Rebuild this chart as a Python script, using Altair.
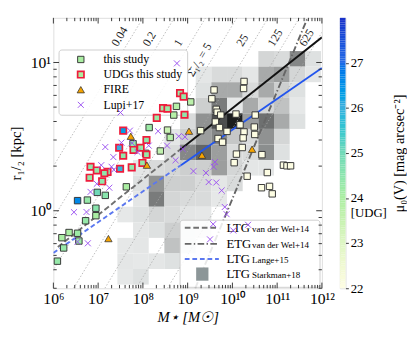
import altair as alt
import numpy as np
import pandas as pd

# ---------------- data ----------------
# "this study" (non-UDG) : log10 M*, r_1/2 [kpc], mu0(V)
study_logm = [8.14, 8.55, 8.61, 7.78, 8.39, 8.06, 7.63, 7.16, 6.98, 6.76, 6.54, 6.95, 6.95,
              6.72, 6.35, 6.19, 6.54, 6.57, 6.23, 6.09, 9.07, 8.75, 8.69, 9.29,
              9.59, 10.26, 10.25, 9.54, 9.64, 9.66, 9.62, 9.74, 10.08, 10.51, 9.71, 10.17,
              9.88, 10.26, 10.49, 10.50, 9.68, 10.24, 9.78, 10.22, 10.09, 10.66, 10.04,
              10.78, 11.14, 11.22, 11.30, 10.33, 10.65, 10.83, 10.89]
study_r = [3.64, 3.50, 3.12, 2.83, 2.53, 2.44, 1.45, 1.27, 1.33, 1.18, 1.17, 1.04, 0.926,
           0.856, 0.713, 0.658, 0.705, 0.625, 0.561, 0.457, 5.42, 5.06, 4.42, 3.47,
           6.53, 7.45, 6.68, 5.69, 4.83, 4.62, 3.97, 4.42, 4.49, 4.42, 3.64, 3.80,
           3.43, 3.40, 3.67, 3.27, 3.07, 3.10, 2.90, 2.67, 2.41, 2.39, 2.11,
           1.81, 2.03, 2.01, 2.01, 1.71, 1.43, 1.46, 1.30]
study_mu = [24.2, 23.4, 23.8, 24.3, 23.6, 24.1, 24.0, 24.5, 25.0, 24.3, 26.6, 24.5, 24.0,
            24.3, 24.0, 24.0, 24.2, 24.2, 24.3, 24.3, 23.7, 23.8, 23.8, 22.3,
            22, 22, 22, 22, 22, 22, 22, 22, 22, 22, 22, 22,
            22, 22, 22, 22, 22, 22, 22, 22, 22, 22, 22,
            22, 22, 22, 22, 22, 22, 22, 22]

# UDGs of this study
udg_logm = [8.83, 8.91, 8.45, 8.55, 8.93, 8.31, 7.56, 8.08, 7.47, 7.79, 7.95, 8.08,
            7.56, 7.99, 7.75, 7.49, 7.21, 6.83, 6.97, 7.14, 6.81, 7.09]
udg_r = [6.21, 5.89, 4.92, 4.88, 4.44, 4.23, 3.47, 3.00, 2.66, 2.57, 2.66, 2.39,
         2.35, 2.10, 1.96, 1.92, 1.83, 1.98, 1.87, 1.79, 1.67, 1.58]
udg_mu = [24.3, 24.3, 24.2, 24.2, 24.4, 24.2, 26.3, 24.4, 26.0, 24.3, 24.3, 24.3,
          24.4, 24.3, 24.4, 25.8, 24.3, 24.4, 24.3, 24.4, 24.3, 24.4]

# FIRE
fire_logm = [7.73, 8.09, 9.03, 9.32, 7.23, 10.44]
fire_r = [3.18, 2.03, 3.44, 2.37, 0.649, 2.60]

# Lupi+17
lupi_logm = [8.76, 7.50, 7.71, 8.34, 8.80, 8.94, 8.13, 8.54, 8.89, 7.52, 7.16, 7.34,
             7.76, 7.88, 8.73, 7.07, 7.30, 7.35, 6.97, 7.25, 6.83, 6.46, 6.74, 6.54,
             6.77, 9.13, 9.41, 9.58, 9.47, 9.64, 9.76, 9.83, 9.87, 9.57, 10.35, 10.02,
             9.50, 9.61]
lupi_r = [9.86, 4.60, 3.47, 3.44, 3.18, 3.15, 2.75, 2.75, 2.61, 2.88, 2.69, 2.30,
          2.86, 2.49, 2.19, 2.03, 1.98, 1.89, 1.52, 1.43, 1.34, 0.978, 0.981, 0.618,
          0.603, 1.85, 1.80, 1.98, 1.56, 1.55, 1.37, 1.06, 0.948, 0.812, 0.804, 0.736,
          0.641, 2.13]

# Starkman+18 LTG 2D histogram (relative density), rows from top to bottom
heat_logm_edges = [7.43, 7.78, 8.13, 8.48, 8.83, 9.18, 9.53, 9.88, 10.23, 10.58,
                   10.93, 11.28, 11.63, 11.98]
heat_logr_edges = [1.077, 0.972, 0.867, 0.762, 0.657, 0.552, 0.447, 0.342, 0.237,
                   0.132, 0.027, -0.078, -0.183, -0.288, -0.393, -0.498]
heat_grid = [
    [0, 0, 0, 0, 0, 0, 0, 0, 0, .12, .10, .45, .08],
    [0, 0, 0, 0, 0, .06, .10, .10, .06, .30, .35, .12, .06],
    [0, 0, 0, 0, 0, .08, .30, .30, .10, .30, .15, .08, 0],
    [0, 0, 0, 0, 0, .15, .50, .05, .30, .12, .20, .05, 0],
    [0, 0, 0, 0, .10, .40, .70, .95, .35, .55, .30, .08, 0],
    [0, 0, 0, .06, .15, .35, .45, .18, .10, .40, .12, 0, 0],
    [0, 0, 0, .10, .45, .60, .35, .10, .10, .42, .08, 0, 0],
    [0, .06, .10, .12, .15, .15, .35, .12, .06, .06, 0, 0, 0],
    [0, .08, .40, .15, .15, .10, .06, .10, 0, 0, 0, 0, 0],
    [0, .06, .50, .12, .10, .10, .05, 0, 0, 0, 0, 0, 0],
    [.05, .08, .12, .10, .06, .05, 0, 0, 0, 0, 0, 0, 0],
    [0, .06, .08, .15, .06, .05, 0, 0, 0, 0, 0, 0, 0],
    [.05, .06, 0, .20, .06, 0, 0, 0, 0, 0, 0, 0, 0],
    [.06, .05, .06, .08, 0, 0, 0, 0, 0, 0, 0, 0, 0],
    [.05, .08, 0, 0, 0, 0, 0, 0, 0, 0, 0, 0, 0],
]

# constant surface density lines  Sigma_1/2 [Msun/pc^2]
sigma_levels = [0.04, 0.2, 1, 5, 25, 125, 625]
sigma_labels = ["0.04", "0.2", "1", "Σ̄₁/₂ = 5", "25", "125", "625"]
sigma_label_r = [12, 12, 12, 7.5, 12, 12, 12]

# size-mass relations (end points: log10 M*, r_1/2 kpc)
vdw_ext_logm, vdw_ext_r = [6.1, 8.83], [0.569, 2.58]
vdw_fit_logm, vdw_fit_r = [8.83, 12.0], [2.58, 14.8]
lange_ext_logm, lange_ext_r = [6.0, 8.85], [0.519, 2.03]
lange_fit_logm, lange_fit_r = [8.85, 12.0], [2.03, 9.18]
etg_logm, etg_r = [9.17, 11.68], [0.3, 20.0]

mu_ticks = [22, 23, 24, 25, 26, 27]

# ---------------- styling ----------------
FONT = "Liberation Serif"
W, H = 284, 286
xsc = alt.Scale(type="log", domain=[1e6, 1e12], nice=False)
ysc = alt.Scale(type="log", domain=[0.3, 20], nice=False)
mu_scale = alt.Scale(domain=[22, 23, 24, 25, 26, 27, 28],
                     range=["#fdfde3", "#dcf6c2", "#aaeea2", "#6fd8b8", "#3aaede", "#2468e6", "#1a2fc8"],
                     clamp=True)

sup = {6: "⁶", 7: "⁷", 8: "⁸", 9: "⁹", 10: "¹⁰", 11: "¹¹", 12: "¹²"}
xexpr = ""
for k in range(6, 12):
    xexpr += f"datum.value < {10.0**k * 3:.3g} ? '10{sup[k]}' : "
xexpr += "'10¹²'"

xaxis = alt.Axis(values=[10.0 ** k for k in range(6, 13)], labelExpr=xexpr, ticks=False,
                 domain=False, grid=False, labelFont=FONT, labelFontSize=16.5, labelPadding=3,
                 labelColor="black", labelFlush=False, labelOverlap=False,
                 title="M⋆ [M☉]", titleFont=FONT, titleFontSize=15.5, titleFontWeight="normal",
                 titleFontStyle="italic", titleColor="black", titlePadding=4)
yaxis = alt.Axis(values=[1, 10], labelExpr="datum.value < 5 ? '10⁰' : '10¹'", ticks=False,
                 domain=False, grid=False, labelFont=FONT, labelFontSize=16.5, labelPadding=3,
                 labelColor="black", labelFlush=False, labelOverlap=False,
                 title="r₁/₂ [kpc]", titleFont=FONT, titleFontSize=15.5, titleFontWeight="normal",
                 titleColor="black", titlePadding=6)

X = lambda f: alt.X(f, scale=xsc, axis=xaxis)
Y = lambda f: alt.Y(f, scale=ysc, axis=yaxis)

# ---------------- tables ----------------
hrows = []
for j, row in enumerate(heat_grid):
    for i, v in enumerate(row):
        if v > 0:
            hrows.append(dict(m1=10 ** heat_logm_edges[i], m2=10 ** heat_logm_edges[i + 1],
                              r1=10 ** heat_logr_edges[j + 1], r2=10 ** heat_logr_edges[j], v=v))
heat_df = pd.DataFrame(hrows)

sig_rows = []
for s in sigma_levels:
    for r in [0.3, 20.0]:
        sig_rows.append(dict(s=s, r=r, M=2 * np.pi * s * (1000 * r) ** 2))
sig_df = pd.DataFrame(sig_rows)
lab_df = pd.DataFrame(dict(t=sigma_labels, r=sigma_label_r,
                           M=[2 * np.pi * s * (1000 * r) ** 2 for s, r in zip(sigma_levels, sigma_label_r)]))

def line_df(lm, r):
    return pd.DataFrame(dict(M=[10 ** v for v in lm], r=r))

study_df = pd.DataFrame(dict(M=[10 ** v for v in study_logm], r=study_r, mu=study_mu))
udg_df = pd.DataFrame(dict(M=[10 ** v for v in udg_logm], r=udg_r, mu=udg_mu))
fire_df = pd.DataFrame(dict(M=[10 ** v for v in fire_logm], r=fire_r))
lupi_df = pd.DataFrame(dict(M=[10 ** v for v in lupi_logm], r=lupi_r))

# ---------------- layers ----------------
heat = alt.Chart(heat_df).mark_rect().encode(
    x=X("m1:Q"), x2="m2:Q", y=Y("r1:Q"), y2="r2:Q",
    color=alt.Color("v:Q", scale=alt.Scale(domain=[0, 1], range=["#f3f5f5", "#131515"]), legend=None))

sig_lines = alt.Chart(sig_df).mark_line(clip=True, color="#a8a8a8", strokeWidth=0.8,
                                        strokeDash=[1.5, 2]).encode(
    x=X("M:Q"), y=Y("r:Q"), detail="s:N")
sig_text = alt.Chart(lab_df).mark_text(angle=301, align="left", baseline="bottom", dy=-4,
                                       font=FONT, fontSize=12.5, color="#222").encode(
    x=X("M:Q"), y=Y("r:Q"), text="t:N")

def rel(lm, r, color, dash=None, width=2):
    kw = dict(color=color, strokeWidth=width, clip=True)
    if dash:
        kw["strokeDash"] = dash
    return alt.Chart(line_df(lm, r)).mark_line(**kw).encode(x=X("M:Q"), y=Y("r:Q"))

rels = [
    rel(vdw_ext_logm, vdw_ext_r, "#707070", [6, 3]),
    rel(etg_logm, etg_r, "#666666", [7, 2.5, 1.5, 2.5]),
    rel(lange_ext_logm, lange_ext_r, "#5b78f0", [5, 3]),
    rel(vdw_fit_logm, vdw_fit_r, "#111111"),
    rel(lange_fit_logm, lange_fit_r, "#2255ee"),
]

one = pd.DataFrame({"a": [0]})

def box(x1, y1, x2, y2):
    return alt.Chart(one).mark_rect(fill="white", fillOpacity=0.85, stroke="#cccccc",
                                    strokeWidth=1, cornerRadius=3).encode(
        x=alt.value(x1), x2=alt.value(x2), y=alt.value(y1), y2=alt.value(y2))

def txt(x, y, t, size):
    return alt.Chart(one).mark_text(text=t, align="left", baseline="middle", font=FONT,
                                    fontSize=size, color="black").encode(
        x=alt.value(x), y=alt.value(y))

XPATH = "M-1,-1L1,1M-1,1L1,-1"

legend_layers = [box(6, 34, 142, 103), box(134, 214, 282, 285)]
# legend 1 (points)
leg1_y = [44, 60, 76, 92]
legend_layers += [
    alt.Chart(one).mark_square(size=45, fill="#aaeea2", stroke="#333", strokeWidth=1, opacity=1).encode(
        x=alt.value(29), y=alt.value(leg1_y[0])),
    alt.Chart(one).mark_square(size=45, fill="#aaeea2", stroke="#ee1c3c", strokeWidth=1.8, opacity=1).encode(
        x=alt.value(29), y=alt.value(leg1_y[1])),
    alt.Chart(one).mark_point(shape="triangle-up", size=60, filled=True, fill="#f5a300", stroke="#333",
                              strokeWidth=0.8, opacity=1).encode(x=alt.value(29), y=alt.value(leg1_y[2])),
    alt.Chart(one).mark_point(shape=XPATH, size=40, filled=False, stroke="#9a50f0", strokeWidth=1,
                              opacity=1).encode(x=alt.value(29), y=alt.value(leg1_y[3])),
]
for yy, t in zip(leg1_y, ["this study", "UDGs this study", "FIRE", "Lupi+17"]):
    legend_layers.append(txt(53, yy, t, 12.5))

# legend 2 (relations)
leg2_y = [222, 239, 255, 271]
def leg_line(yy, color, dash):
    return alt.Chart(one).mark_rule(color=color, strokeWidth=2, strokeDash=dash).encode(
        x=alt.value(139), x2=alt.value(175), y=alt.value(yy))
legend_layers += [
    leg_line(leg2_y[0], "#707070", [6, 3]),
    leg_line(leg2_y[1], "#666666", [7, 2.5, 1.5, 2.5]),
    leg_line(leg2_y[2], "#5b78f0", [5, 3]),
    alt.Chart(one).mark_rect(fill="#8c9698").encode(
        x=alt.value(151), x2=alt.value(164), y=alt.value(leg2_y[3] - 7), y2=alt.value(leg2_y[3] + 7)),
]
for yy, big, small in zip(leg2_y, ["LTG", "ETG", "LTG", "LTG"],
                          ["van der Wel+14", "van der Wel+14", "Lange+15", "Starkman+18"]):
    legend_layers.append(txt(183, yy, big, 13.5))
    legend_layers.append(txt(210, yy + 1, small, 9.5))

# data points
study = alt.Chart(study_df).mark_square(size=46, stroke="#333333", strokeWidth=1, opacity=1).encode(
    x=X("M:Q"), y=Y("r:Q"), fill=alt.Fill("mu:Q", scale=mu_scale, legend=None))
udg = alt.Chart(udg_df).mark_square(size=46, stroke="#ee1c3c", strokeWidth=1.8, opacity=1).encode(
    x=X("M:Q"), y=Y("r:Q"), fill=alt.Fill("mu:Q", scale=mu_scale, legend=None))
fire = alt.Chart(fire_df).mark_point(shape="triangle-up", size=60, filled=True, fill="#f5a300",
                                     stroke="#333333", strokeWidth=0.8, opacity=1).encode(
    x=X("M:Q"), y=Y("r:Q"))
lupi = alt.Chart(lupi_df).mark_point(shape=XPATH, size=40, filled=False, stroke="#9a50f0",
                                     strokeWidth=1, opacity=1).encode(x=X("M:Q"), y=Y("r:Q"))

# inward ticks on all four sides
xt_major = pd.DataFrame(dict(v=[10.0 ** k for k in range(6, 13)]))
xt_minor = pd.DataFrame(dict(v=[k * 10.0 ** d for d in range(6, 12) for k in range(2, 10)]))
yt_major = pd.DataFrame(dict(v=[1.0, 10.0]))
yt_minor = pd.DataFrame(dict(v=[0.3, 0.4, 0.5, 0.6, 0.7, 0.8, 0.9, 2, 3, 4, 5, 6, 7, 8, 9]))
tk = dict(color="#333333", strokeWidth=1)
ticks = []
for df, L in [(xt_major, 6), (xt_minor, 3.5)]:
    ticks.append(alt.Chart(df).mark_rule(**tk).encode(x=X("v:Q"), y=alt.value(H), y2=alt.value(H - L)))
    ticks.append(alt.Chart(df).mark_rule(**tk).encode(x=X("v:Q"), y=alt.value(0), y2=alt.value(L)))
for df, L in [(yt_major, 6), (yt_minor, 3.5)]:
    ticks.append(alt.Chart(df).mark_rule(**tk).encode(y=Y("v:Q"), x=alt.value(0), x2=alt.value(L)))
    ticks.append(alt.Chart(df).mark_rule(**tk).encode(y=Y("v:Q"), x=alt.value(W), x2=alt.value(W - L)))

main = alt.layer(heat, sig_lines, sig_text, *rels, *legend_layers, study, udg, fire, lupi, *ticks).properties(
    width=W, height=H).resolve_scale(color="independent", fill="independent")

# colour bar
cb_v = np.round(np.arange(22, 28, 0.05), 3)
cb_df = pd.DataFrame(dict(v=cb_v, v2=cb_v + 0.05))
colorbar = alt.Chart(cb_df).mark_rect().encode(
    y=alt.Y("v:Q", scale=alt.Scale(domain=[22, 28], nice=False, zero=False),
            axis=alt.Axis(orient="right", values=mu_ticks,
                          labelExpr="datum.value == 24 ? ['24', '[UDG]'] : datum.label",
                          tickSize=3, tickColor="#333", domain=False, grid=False,
                          labelFont=FONT, labelFontSize=13.5, labelColor="black", labelPadding=2,
                          labelFlush=False, labelOverlap=False,
                          title="μ₀(V) [mag arcsec⁻²]", titleFont=FONT, titleFontSize=15,
                          titleFontWeight="normal", titleColor="black", titleAngle=270,
                          titleBaseline="top", titlePadding=6)),
    y2="v2:Q",
    fill=alt.Fill("v:Q", scale=mu_scale, legend=None),
).properties(width=6, height=H)

chart = alt.hconcat(main, colorbar, spacing=4).resolve_scale(
    y="independent", fill="independent", color="independent").properties(
    padding={"left": 1, "top": 0, "right": 0, "bottom": 0}).configure_view(
    stroke="#111111", strokeWidth=1).configure(background="white")

chart.save("out.html", embed_options={"renderer": "svg", "actions": False})
